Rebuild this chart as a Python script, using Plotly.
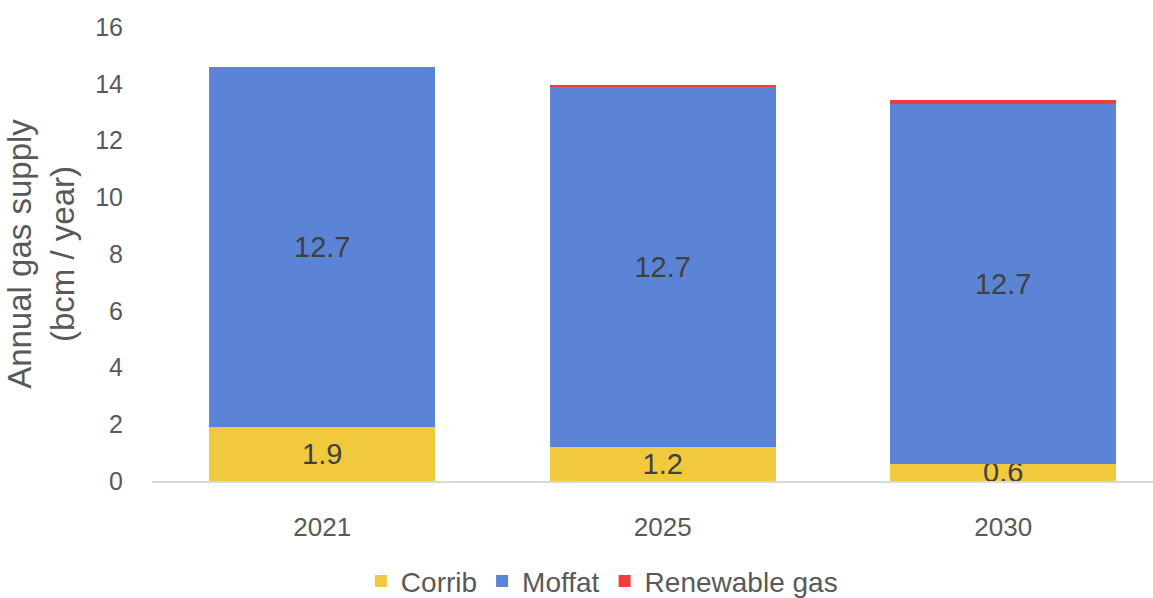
import plotly.graph_objects as go

years = ["2021", "2025", "2030"]
corrib = [1.9, 1.2, 0.6]
moffat = [12.7, 12.7, 12.7]
renewable = [0.0, 0.07, 0.12]

label_font = dict(size=29, color="#404040", family="Liberation Sans, Arial, sans-serif")

fig = go.Figure()
fig.add_trace(go.Bar(name="Corrib", x=years, y=corrib, marker_color="#F0C93C",
                     text=[f"{v:.1f}" for v in corrib], textposition="inside",
                     insidetextanchor="middle", constraintext="none",
                     textfont=label_font, cliponaxis=False))
fig.add_trace(go.Bar(name="Moffat", x=years, y=moffat, marker_color="#5B84D6",
                     text=[f"{v:.1f}" for v in moffat], textposition="inside",
                     insidetextanchor="middle", constraintext="none",
                     textfont=label_font))
fig.add_trace(go.Bar(name="Renewable gas", x=years, y=renewable, marker_color="#F23B3B"))

fig.update_traces(marker_line_width=0)
fig.update_layout(
    barmode="stack", bargap=0.335,
    width=1153, height=598,
    margin=dict(l=152, r=0, t=27, b=117, autoexpand=False),
    plot_bgcolor="white", paper_bgcolor="white",
    font=dict(family="Liberation Sans, Arial, sans-serif", color="#595959", size=20),
    showlegend=True,
    legend=dict(orientation="h", xref="container", yref="container",
                x=0.522, xanchor="center", y=0.028, yanchor="middle",
                font=dict(size=28, color="#595959"), traceorder="normal",
                itemsizing="constant"),
    uniformtext=dict(mode="show", minsize=10),
)
fig.update_yaxes(range=[0, 16], dtick=2, showgrid=False, zeroline=False,
                 showline=False, ticks="", ticklabelstandoff=28,
                 tickfont=dict(size=25, color="#595959"),
                 title=dict(text="Annual gas supply<br>(bcm / year)", standoff=10,
                            font=dict(size=33, color="#595959")))
fig.update_xaxes(range=[-0.5, 2.44], showgrid=False, showline=True, linecolor="#D9D9D9",
                 linewidth=1.5, ticks="", ticklabelstandoff=22,
                 tickfont=dict(size=26, color="#595959"))

fig.write_html("out.html")
